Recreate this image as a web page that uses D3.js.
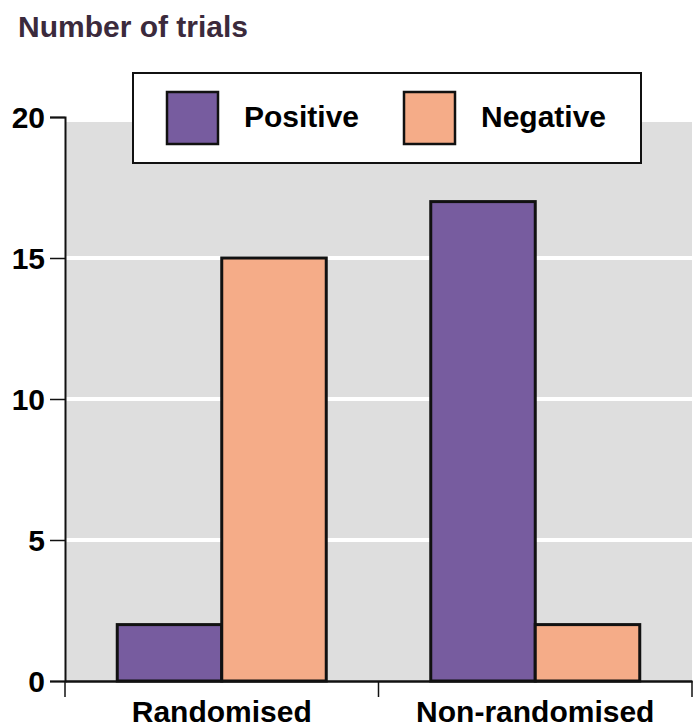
<!DOCTYPE html>
<html>
<head>
<meta charset="utf-8">
<script src="https://cdn.jsdelivr.net/npm/d3@7"></script>
<style>
  html, body { margin: 0; padding: 0; background: #fff; }
  svg text { font-family: "Liberation Sans", Arial, sans-serif; font-weight: bold; }
</style>
</head>
<body>
<svg id="chart" width="697" height="726"></svg>
<script>
const categories = ["Randomised", "Non-randomised"];
const seriesNames = ["Positive", "Negative"];
const positiveValues = [2, 17];
const negativeValues = [15, 2];
const yTicks = [0, 5, 10, 15, 20];
const colors = ["#775c9f", "#f5ac88"];

const data = categories.map((c, i) => ({ category: c, values: [positiveValues[i], negativeValues[i]] }));

const svg = d3.select("#chart");
const mLeft = 65, mRight = 692, mTop = 117, mBottom = 681;

const x = d3.scaleBand().domain(categories).range([mLeft, mRight]).paddingInner(0).paddingOuter(0);
const xSub = d3.scaleBand().domain(seriesNames).range([0, x.bandwidth()]).paddingInner(0).paddingOuter(0.5);
const y = d3.scaleLinear().domain([0, 20]).range([mBottom, mTop]);

// title
svg.append("text").attr("x", 18).attr("y", 37).attr("font-size", 30).attr("fill", "#3b2a3c").text("Number of trials");

// background
svg.append("rect").attr("x", mLeft).attr("y", mTop + 5).attr("width", mRight - mLeft).attr("height", mBottom - mTop - 5).attr("fill", "#dedede");

// gridlines
svg.append("g").selectAll("line").data(yTicks.filter(t => t > 0 && t < 20)).join("line")
  .attr("x1", mLeft).attr("x2", mRight).attr("y1", d => y(d)).attr("y2", d => y(d))
  .attr("stroke", "#fff").attr("stroke-width", 4);

// bars
const groups = svg.append("g").selectAll("g").data(data).join("g")
  .attr("transform", d => `translate(${x(d.category)},0)`);
groups.selectAll("rect").data(d => d.values.map((v, j) => ({ key: seriesNames[j], v, j }))).join("rect")
  .attr("x", d => xSub(d.key)).attr("width", xSub.bandwidth())
  .attr("y", d => y(d.v)).attr("height", d => y(0) - y(d.v))
  .attr("fill", d => colors[d.j]).attr("stroke", "#111").attr("stroke-width", 3);

// y axis
const yAxis = svg.append("g").attr("transform", `translate(${mLeft},0)`)
  .call(d3.axisLeft(y).tickValues(yTicks).tickSize(15).tickPadding(5));
yAxis.select(".domain").attr("stroke", "#111").attr("stroke-width", 2);
yAxis.selectAll(".tick line").attr("stroke", "#111").attr("stroke-width", 1.5);
yAxis.selectAll(".tick text").attr("font-size", 30).attr("fill", "#000").attr("font-family", null).attr("dy", "0.35em");

// x axis
const xAxis = svg.append("g").attr("transform", `translate(0,${mBottom})`)
  .call(d3.axisBottom(x).tickSize(0).tickPadding(0));
xAxis.select(".domain").attr("stroke", "#111").attr("stroke-width", 2.5);
xAxis.selectAll(".tick text").attr("font-size", 30).attr("fill", "#000").attr("font-family", null)
  .attr("dy", 0).attr("y", 41);
const edges = [mLeft, mLeft + x.bandwidth(), mRight];
xAxis.selectAll("line.edge").data(edges).join("line").attr("class", "edge")
  .attr("x1", d => d).attr("x2", d => d).attr("y1", 0).attr("y2", 16)
  .attr("stroke", "#111").attr("stroke-width", 1.5);

// legend
const legend = svg.append("g");
legend.append("rect").attr("x", 133).attr("y", 73).attr("width", 508).attr("height", 90)
  .attr("fill", "#fff").attr("stroke", "#111").attr("stroke-width", 2);
const legendX = [167, 404];
seriesNames.forEach((s, i) => {
  legend.append("rect").attr("x", legendX[i]).attr("y", 92).attr("width", 51).attr("height", 52)
    .attr("fill", colors[i]).attr("stroke", "#111").attr("stroke-width", 2.5);
  legend.append("text").attr("x", legendX[i] + 77).attr("y", 127).attr("font-size", 30).attr("fill", "#000").text(s);
});
</script>
</body>
</html>
